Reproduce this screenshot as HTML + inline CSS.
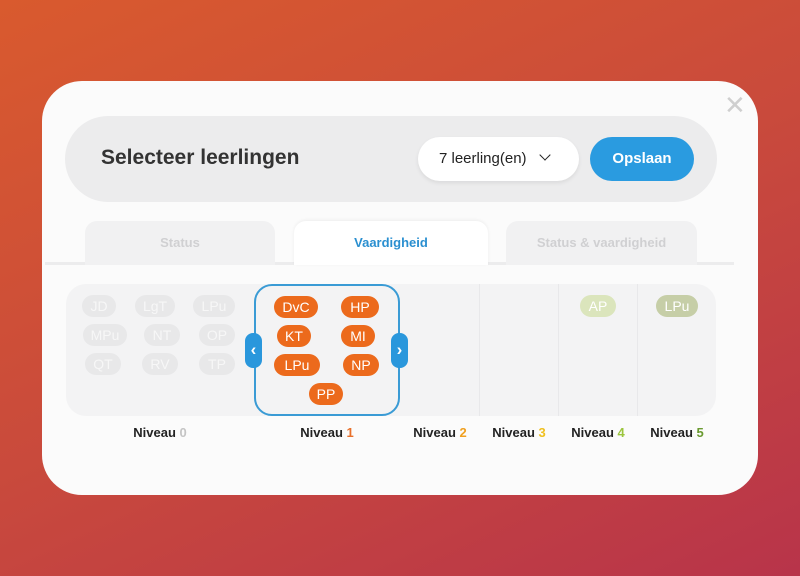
<!DOCTYPE html>
<html><head><meta charset="utf-8"><style>
*{margin:0;padding:0;box-sizing:border-box}
body{width:800px;height:576px;overflow:hidden;position:relative;font-family:"Liberation Sans",sans-serif;background:linear-gradient(155deg,#d95a2e 0%,#c94a3c 50%,#b8344a 100%)}
.a{position:absolute}
.card{left:42px;top:81px;width:716px;height:414px;background:#fbfbfb;border-radius:40px}
.hdr{left:65px;top:116px;width:652px;height:86px;background:#ececed;border-radius:43px}
.pill{position:absolute;height:22px;border-radius:11px;color:#fff;font-size:14px;text-align:center;line-height:22px}
.g{background:#e8e8e9;color:#f7f7f7}
.o{background:#ec6a1c}
.tab{position:absolute;top:221px;height:44px;border-radius:12px 12px 0 0;background:#f1f1f2;color:#d0d0d2;font-weight:bold;font-size:13px;text-align:center;line-height:44px}
.lbl{position:absolute;top:425px;font-size:13px;font-weight:bold;color:#222;transform:translateX(-50%);white-space:nowrap}
.arr{position:absolute;top:333px;width:17px;height:35px;background:#2a97dc;border-radius:8px;color:#fff;font-size:17px;font-weight:bold;text-align:center;line-height:33px}
</style></head><body>
<div class="a card"></div>
<div class="a" style="left:724px;top:93px;font-size:26px;color:#cfcfcf;line-height:26px;font-family:'DejaVu Sans',sans-serif;font-weight:300">✕</div>
<div class="a hdr"></div>
<div class="a" style="left:101px;top:146px;font-size:21px;font-weight:bold;color:#333">Selecteer leerlingen</div>
<div class="a" style="left:418px;top:137px;width:161px;height:44px;background:#fff;border-radius:22px;box-shadow:0 2px 4px rgba(0,0,0,.08);font-size:15px;color:#222;line-height:44px;padding-left:21px">7 leerling(en) <span style="display:inline-block;width:8px;height:8px;border-right:1.5px solid #222;border-bottom:1.5px solid #222;transform:rotate(45deg);margin-left:10px;position:relative;top:-4px"></span></div>
<div class="a" style="left:590px;top:137px;width:104px;height:44px;background:#2a9be0;border-radius:22px;color:#fff;font-weight:bold;font-size:15px;text-align:center;line-height:44px">Opslaan</div>
<div class="a" style="left:45px;top:262px;width:689px;height:3px;background:#ececed"></div>
<div class="tab" style="left:85px;width:190px">Status</div>
<div class="tab" style="left:294px;width:194px;background:#fff;color:#2a8fd0;box-shadow:0 -1px 3px rgba(0,0,0,.06)">Vaardigheid</div>
<div class="tab" style="left:506px;width:191px">Status &amp; vaardigheid</div>
<div class="a" style="left:66px;top:284px;width:650px;height:132px;background:#f3f3f4;border-radius:20px"></div>
<div class="a" style="left:479px;top:284px;width:1px;height:132px;background:#e8e8ea"></div>
<div class="a" style="left:558px;top:284px;width:1px;height:132px;background:#e8e8ea"></div>
<div class="a" style="left:637px;top:284px;width:1px;height:132px;background:#e8e8ea"></div>
<div class="a" style="left:254px;top:284px;width:146px;height:132px;border:2px solid #3a9bd5;border-radius:18px"></div>
<div class="pill g" style="left:82px;top:295px;width:34px">JD</div>
<div class="pill g" style="left:135px;top:295px;width:40px">LgT</div>
<div class="pill g" style="left:193px;top:295px;width:42px">LPu</div>
<div class="pill g" style="left:83px;top:324px;width:44px">MPu</div>
<div class="pill g" style="left:144px;top:324px;width:36px">NT</div>
<div class="pill g" style="left:199px;top:324px;width:36px">OP</div>
<div class="pill g" style="left:85px;top:353px;width:36px">QT</div>
<div class="pill g" style="left:142px;top:353px;width:36px">RV</div>
<div class="pill g" style="left:199px;top:353px;width:36px">TP</div>
<div class="pill o" style="left:274px;top:296px;width:44px">DvC</div>
<div class="pill o" style="left:341px;top:296px;width:38px">HP</div>
<div class="pill o" style="left:277px;top:325px;width:34px">KT</div>
<div class="pill o" style="left:341px;top:325px;width:34px">MI</div>
<div class="pill o" style="left:274px;top:354px;width:46px">LPu</div>
<div class="pill o" style="left:343px;top:354px;width:36px">NP</div>
<div class="pill o" style="left:309px;top:383px;width:34px">PP</div>
<div class="pill" style="left:580px;top:295px;width:36px;background:#dbe5bc">AP</div>
<div class="pill" style="left:656px;top:295px;width:42px;background:#c6cea7">LPu</div>
<div class="arr" style="left:245px">‹</div>
<div class="arr" style="left:391px">›</div>
<div class="lbl" style="left:160px">Niveau <span style="color:#c4c4c4">0</span></div>
<div class="lbl" style="left:327px">Niveau <span style="color:#e8702a">1</span></div>
<div class="lbl" style="left:440px">Niveau <span style="color:#f0a020">2</span></div>
<div class="lbl" style="left:519px">Niveau <span style="color:#f0c020">3</span></div>
<div class="lbl" style="left:598px">Niveau <span style="color:#9bc53d">4</span></div>
<div class="lbl" style="left:677px">Niveau <span style="color:#6a9a30">5</span></div>
</body></html>
